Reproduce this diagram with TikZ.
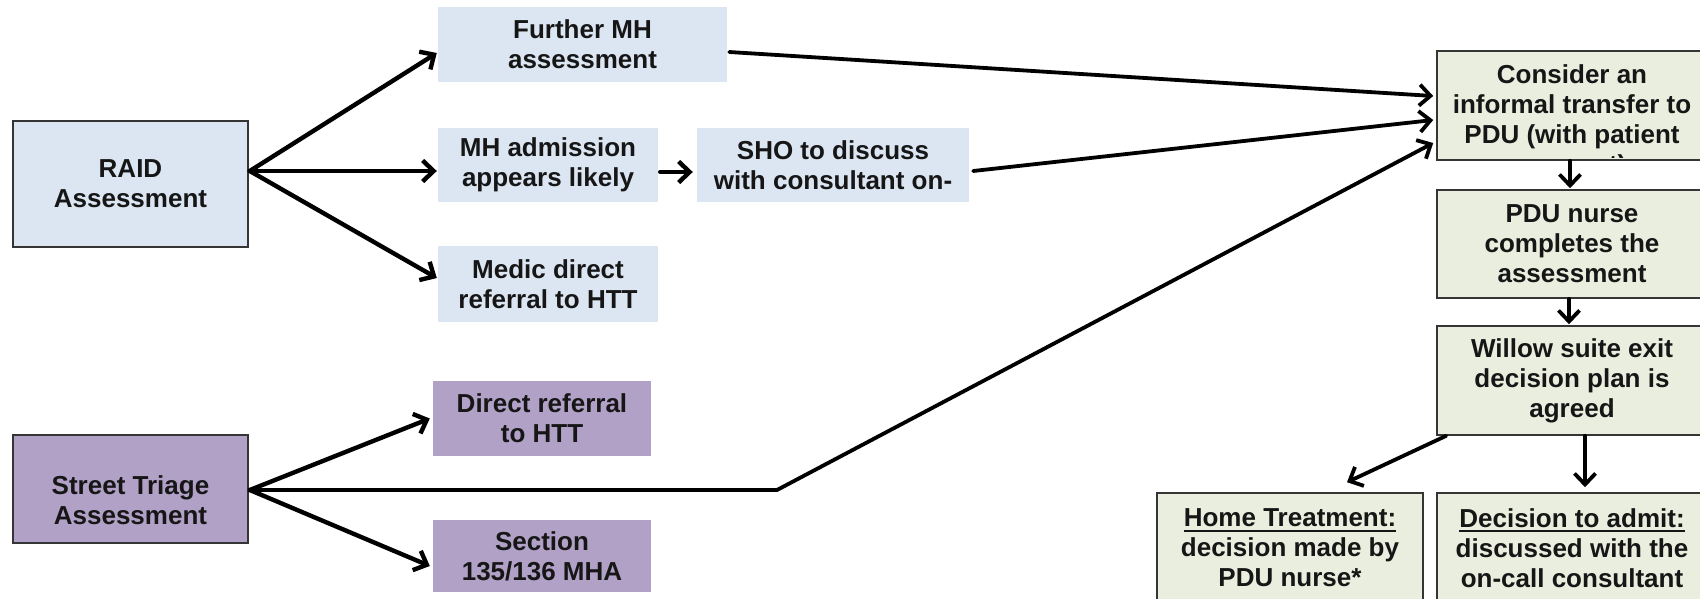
\documentclass[tikz,border=0pt]{standalone}
\usepackage{fontspec}
\setmainfont{Liberation Sans}
\usetikzlibrary{arrows.meta,calc}
\definecolor{bluefill}{HTML}{DCE6F2}
\definecolor{purplefill}{HTML}{B2A1C7}
\definecolor{greenfill}{HTML}{EAEEDE}
\definecolor{edgegray}{HTML}{353535}
\definecolor{txtcol}{HTML}{161616}
\newcommand{\myul}[1]{\mbox{\vtop{\hbox{#1}\kern2.5pt\hrule height 2.2pt}}}
\begin{document}
\begin{tikzpicture}[x=1pt,y=-1pt,
  basebox/.style={rectangle, inner sep=0pt, align=center, text=txtcol,
    font=\fontsize{26}{30}\selectfont\bfseries},
  bluebox/.style={basebox, fill=bluefill},
  purplebox/.style={basebox, fill=purplefill},
  greenbox/.style={basebox, fill=greenfill, draw=edgegray, line width=1.6pt},
  framed/.style={draw=edgegray, line width=1.6pt},
  conn/.style={draw=black, line width=4.4pt, line cap=round, line join=round,
    -{Straight Barb[length=11pt,width=21pt]}},
  thinconn/.style={draw=black, line width=3.8pt, line cap=round, line join=round,
    -{Straight Barb[length=11pt,width=21pt]}}
]
\useasboundingbox (0,0) rectangle (1700,598);

% left column
\node[bluebox, framed, minimum width=235pt, minimum height=126pt] (raid) at (130.5,184) {RAID\\Assessment};
\node[bluebox, minimum width=289pt, minimum height=75pt] (further) at (582.5,44.5) {Further MH\\assessment};
\node[bluebox, minimum width=220pt, minimum height=74pt] (mhadm) at (548,165) {MH admission\\appears likely};
\node[bluebox, minimum width=272pt, minimum height=74pt] (sho) at (833,165) {SHO to discuss\\with consultant on-};
\node[bluebox, minimum width=220pt, minimum height=76pt] (medic) at (548,284) {Medic direct\\referral to HTT};

\node[purplebox, framed, minimum width=235pt, minimum height=108pt] (street) at (130.5,489) {};
\node[basebox] (streettext) at ($(street.center)+(0,11)$) {Street Triage\\Assessment};
\node[purplebox, minimum width=218pt, minimum height=75pt] (direct) at (542,418.5) {Direct referral\\to HTT};
\node[purplebox, minimum width=218pt, minimum height=72pt] (section) at (542,556) {Section\\135/136 MHA};

% right column
\node[greenbox, minimum width=270pt, minimum height=109pt] (consider) at (1572,105.5) {};
\begin{scope}
  \clip ($(consider.north west)+(1,1)$) rectangle ($(consider.south east)+(-1,-3.5)$);
  \node[basebox, anchor=north] (considertext) at (1572,64) {Consider an\\informal transfer to\\PDU (with patient\\consent)};
\end{scope}
\node[greenbox, minimum width=270pt, minimum height=108pt] (pdu) at (1572,244) {PDU nurse\\completes the\\assessment};
\node[greenbox, minimum width=270pt, minimum height=109pt] (willow) at (1572,380.5) {Willow suite exit\\decision plan is\\agreed};
\node[greenbox, minimum width=266pt, minimum height=110pt] (home) at (1290,548) {\myul{Home Treatment:}\\decision made by\\PDU nurse*};
\node[greenbox, minimum width=270pt, minimum height=110pt] (decision) at (1572,548) {\myul{Decision to admit:}\\discussed with the\\on-call consultant};

% RAID branches
\coordinate (rsrc) at ($(raid.east)+(1,-13)$);
\draw[conn] (rsrc) -- ($(further.west)+(-1,8.5)$);
\draw[conn] (rsrc) -- ($(mhadm.west)+(-1,6)$);
\draw[conn] (rsrc) -- ($(medic.west)+(-1,-6)$);
\draw[conn] ($(mhadm.east)+(2,7)$) -- ($(sho.west)+(-4,7)$);

% Street triage branches
\coordinate (ssrc) at ($(street.east)+(1,1)$);
\draw[conn] (ssrc) -- ($(direct.west)+(-3,0)$);
\draw[conn] (ssrc) -- ($(section.west)+(-3,10)$);
\coordinate (bend) at (777,490);

% into Consider
\draw[thinconn] ($(further.east)+(2,7.5)$) -- ($(consider.west)+(-3,-9.5)$);
\draw[thinconn] ($(sho.east)+(4,6)$) -- ($(consider.west)+(-3,14.5)$);
\draw[thinconn] (ssrc) -- (bend) -- ($(consider.west)+(-3,37.5)$);

% right column flow
\draw[thinconn] ($(consider.south)+(-2,0)$) -- ($(pdu.north)+(-2,-1)$);
\draw[thinconn] ($(pdu.south)+(-3,0)$) -- ($(willow.north)+(-3,-1)$);
\draw[thinconn] ($(willow.south west)+(10,0)$) -- ($(home.north)+(57,-10)$);
\draw[thinconn] ($(willow.south)+(13,0)$) -- ($(decision.north)+(13,-5)$);
\end{tikzpicture}
\end{document}
